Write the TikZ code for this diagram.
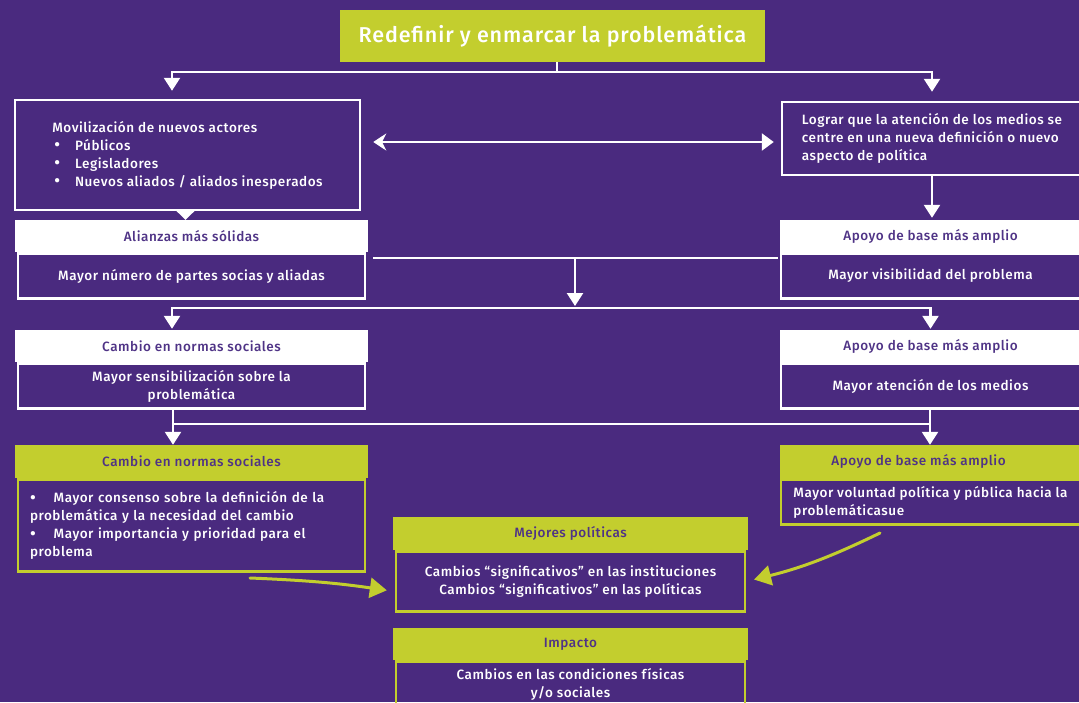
\documentclass[tikz,border=0pt]{standalone}
\usepackage{fontspec}
\setmainfont{Fira Sans}[UprightFont=* Medium, BoldFont=* SemiBold, LetterSpace=4]
\usetikzlibrary{arrows.meta, positioning}
\definecolor{bgpurple}{HTML}{4A2A7F}
\definecolor{lime}{HTML}{C3CE2E}
\definecolor{hdtext}{HTML}{4F3386}
\newcommand{\bigdot}{\smash{\raisebox{-0.5pt}{\fontsize{17}{18}\selectfont•}}}

\begin{document}
\begin{tikzpicture}[
  x=1pt, y=-1pt,
  node distance=0pt,
  every node/.style={font=\fontsize{13.5}{18}\selectfont, inner sep=0pt},
  titlebox/.style={rectangle, fill=lime, text=white, minimum width=425pt, minimum height=52pt,
                   font=\fontsize{21.5}{26}\selectfont},
  whitehead/.style={rectangle, fill=white, text=hdtext, minimum width=353pt, minimum height=32pt},
  limehead/.style={whitehead, fill=lime, minimum height=33pt},
  body/.style={rectangle, draw=white, line width=2.5pt, text=white, minimum width=347pt,
               minimum height=45pt, align=center},
  limebody/.style={body, draw=lime},
  conn/.style={draw=white, line width=2.5pt},
  arr/.style={conn, -{Triangle[width=16pt,length=13pt]}},
  limearr/.style={draw=lime, line width=3pt, line cap=round, -{Triangle[width=20pt,length=17pt]}},
]
  \fill[bgpurple] (0,0) rectangle (1079,702);
  \useasboundingbox (0,0) rectangle (1079,702);
  \clip (0,0) rectangle (1079,702);

  \node[titlebox] (redef) at (552.5,36) {Redefinir y enmarcar la problemática};

  % first row
  \node[body, minimum width=345pt, minimum height=110pt, align=left] (mov) at (187.5,155)
    {Movilización de nuevos actores\\
     \hspace*{2pt}\bigdot\hspace{15pt}Públicos\\
     \hspace*{2pt}\bigdot\hspace{15pt}Legisladores\\
     \hspace*{2pt}\bigdot\hspace{15pt}Nuevos aliados / aliados inesperados};
  \node[body, minimum width=300pt, minimum height=73pt, align=left] (medios) at (932,138.5)
    {Lograr que la atención de los medios se\\
     centre en una nueva definición o nuevo\\
     aspecto de política};

  % second row
  \node[whitehead] (ali) at (191.5,236) {Alianzas más sólidas};
  \node[body, below=of ali] (aliB) {Mayor número de partes socias y aliadas};
  \node[whitehead, minimum width=301pt] (apo1) at (930.5,236) {Apoyo de base más amplio};
  \node[body, minimum width=299pt, below=of apo1] (apo1B) {Mayor visibilidad del problema};

  % third row
  \node[whitehead] (norm1) at (191.5,346) {Cambio en normas sociales};
  \node[body, below=of norm1] (norm1B) {Mayor sensibilización sobre la\\problemática};
  \node[whitehead, minimum width=301pt] (apo2) at (930.5,346) {Apoyo de base más amplio};
  \node[body, minimum width=299pt, below=of apo2] (apo2B) {Mayor atención de los medios};

  % fourth row
  \node[limehead] (cons) at (191.5,461.5) {Cambio en normas sociales};
  \node[limebody, below=of cons, minimum height=92pt, text width=323pt, inner xsep=12pt, align=left] (consB)
    {\bigdot\hspace{18pt}Mayor consenso sobre la definición de la\\
     problemática y la necesidad del cambio\\
     \bigdot\hspace{18pt}Mayor importancia y prioridad para el\\
     problema};
  \node[limehead, minimum width=301pt] (apo3) at (930.5,461.5) {\hspace*{-24pt}Apoyo de base más amplio};
  \node[limebody, minimum width=299pt, below=of apo3, align=left] (apo3B)
    {Mayor voluntad política y pública hacia la\\problemáticasue};

  % policies and impact
  \node[limehead, minimum width=355pt] (mej) at (570.5,533.5) {Mejores políticas};
  \node[limebody, minimum width=349pt, minimum height=60pt, below=of mej] (mejB)
    {Cambios “significativos” en las instituciones\\Cambios “significativos” en las políticas};
  \node[limehead, minimum width=355pt, minimum height=32pt] (imp) at (570.5,644) {Impacto};
  \node[limebody, minimum width=349pt, below=of imp] (impB)
    {Cambios en las condiciones físicas\\y/o sociales};

  % connectors
  \coordinate (s0) at (557,72);
  \draw[conn] (redef.south -| s0) -- (s0);
  \draw[arr, shorten >=8pt] (s0) -| ([xshift=-15.5pt]mov.north);
  \draw[arr, shorten >=9pt] (s0) -| (medios.north);

  \draw[conn, {Stealth[width=17pt,length=13pt]}-{Triangle[width=17pt,length=12pt]},
        shorten <=12pt, shorten >=7pt] ([yshift=13pt]mov.east) -- ([yshift=-3.5pt]medios.west);

  \draw[conn, -{Triangle[width=18pt,length=9pt]}] ([xshift=-2pt]mov.south) -- ([xshift=-2pt]mov.south |- ali.north);
  \draw[arr, shorten >=2pt] (medios.south) -- (medios.south |- apo1.north);

  \coordinate (m1) at (575,258);
  \coordinate (j2) at (575,308);
  \draw[conn, shorten <=7pt, shorten >=2pt] (aliB.east |- m1) -- (apo1B.west |- m1);
  \draw[arr, shorten >=2pt] (m1) -- (j2);
  \draw[arr, shorten >=1pt] (j2) -| ([xshift=-19.5pt]norm1.north);
  \draw[arr, shorten >=1pt] (j2) -| (apo2.north);

  \coordinate (j3l) at (173,424);
  \coordinate (j3r) at (930,424);
  \draw[conn] (norm1B.south -| j3l) -- (j3l) -- (j3r) -- (apo2B.south -| j3r);
  \draw[arr] (j3l) -- (j3l |- cons.north);
  \draw[arr] (j3r) -- (j3r |- apo3.north);

  \coordinate (la) at (250,578);
  \coordinate (ra) at (880,533);
  \draw[limearr, shorten >=8pt] (la) to[bend left=3] ([yshift=-10pt]mejB.west);
  \draw[limearr, shorten >=8pt] (ra) to[bend left=6] (mejB.east);
\end{tikzpicture}
\end{document}
